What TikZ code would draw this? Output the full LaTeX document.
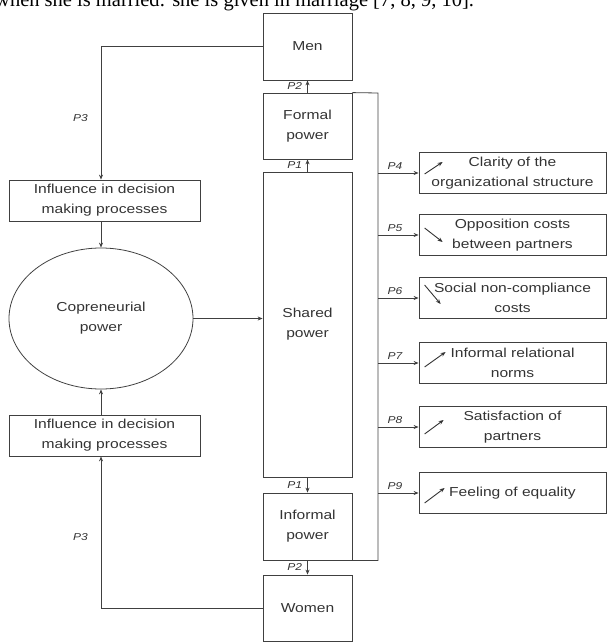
\documentclass[tikz,border=0pt]{standalone}
\usepackage{fontspec}
\setmainfont{Liberation Sans}[FakeStretch=1.2]
\newfontfamily\refserif{Liberation Serif}
\usetikzlibrary{shapes.geometric,arrows.meta,calc}
\begin{document}
\begin{tikzpicture}[x=1pt,y=-1pt,
  line/.style={draw=black!75, line width=0.8pt},
  arr/.style={line, -{Stealth[length=5pt,width=4pt]}},
  trend/.style={draw=black!80, line width=0.9pt, -{Stealth[length=5pt,width=4pt]}},
  box/.style={line, rectangle, inner sep=0pt, align=center, text=black!80,
              font=\fontsize{13}{20}\selectfont},
  vbox/.style={box, minimum width=89pt},
  lbox/.style={box, minimum width=191pt, minimum height=41pt},
  rbox/.style={box, minimum width=187pt, minimum height=41pt},
  plab/.style={inner sep=0pt, text=black!80, font=\fontsize{10}{12}\selectfont\itshape}
]
\useasboundingbox (0,0) rectangle (608,642);
\clip (0,0) rectangle (608,642);

% cut-off line of surrounding text
\node[anchor=base west, inner sep=0pt, font=\refserif\fontsize{20.5}{20.5}\selectfont] (toptext) at (-5,7)
  {when she is married: she is given in marriage [7, 8, 9, 10].};

% central column
\node[vbox, minimum height=67pt]  (men)      at (307.5,46.5)  {Men};
\node[vbox, minimum height=66pt]  (formal)   at (307.5,126)   {Formal\\power};
\node[vbox, minimum height=305pt] (shared)   at (307.5,324.5) {Shared\\power};
\node[vbox, minimum height=67pt]  (informal) at (307.5,526.5) {Informal\\power};
\node[vbox, minimum height=66pt]  (women)    at (307.5,608)   {Women};

% left column
\node[lbox] (inf1) at (104.5,200.5) {Influence in decision\\making processes};
\node[box, ellipse, minimum width=184pt, minimum height=141pt] (ell) at (101,318.5) {Copreneurial\\power};
\node[lbox] (inf2) at (104.5,435.5) {Influence in decision\\making processes};

% right column
\node[rbox] (b4) at (512.5,173) {Clarity of the\\organizational structure};
\node[rbox] (b5) at (512.5,235) {Opposition costs\\between partners};
\node[rbox] (b6) at (512.5,298) {Social non-compliance\\costs};
\node[rbox] (b7) at (512.5,363) {Informal relational\\norms};
\node[rbox] (b8) at (512.5,427) {Satisfaction of\\partners};
\node[rbox] (b9) at (512.5,493) {Feeling of equality};

% vertical arrows in central column
\draw[arr] (formal.north) -- node[plab, left=5pt] (p2a) {P2} (men.south);
\draw[arr] (shared.north) -- node[plab, left=5pt] (p1a) {P1} (formal.south);
\draw[arr] (shared.south) -- node[plab, left=5pt] (p1b) {P1} (informal.north);
\draw[arr] (informal.south) -- node[plab, left=5pt] (p2b) {P2} (women.north);

% left loop
\draw[arr] (men.west) -| (inf1.north -| ell.north);
\draw[arr] (inf1.south -| ell.north) -- (ell.north);
\draw[arr] (inf2.north -| ell.south) -- (ell.south);
\draw[arr] (women.west) -| (inf2.south -| ell.south);
\draw[arr] (ell.east) -- (ell.east -| shared.west);
\node[plab, anchor=east] (p3a) at (88,118) {P3};
\node[plab, anchor=east] (p3b) at (88,537) {P3};

% bracket and outcome arrows
\coordinate (br) at (378,93);
\draw[line] (formal.north east) -- (br) -- (br |- informal.south east) -- (informal.south east);
\draw[arr] (br |- b4.west) -- node[plab, above=3pt, pos=0.42] (p4) {P4} (b4.west);
\draw[arr] (br |- b5.west) -- node[plab, above=3pt, pos=0.42] (p5) {P5} (b5.west);
\draw[arr] (br |- b6.west) -- node[plab, above=3pt, pos=0.42] (p6) {P6} (b6.west);
\draw[arr] (br |- b7.west) -- node[plab, above=3pt, pos=0.42] (p7) {P7} (b7.west);
\draw[arr] (br |- b8.west) -- node[plab, above=3pt, pos=0.42] (p8) {P8} (b8.west);
\draw[arr] (br |- b9.west) -- node[plab, above=3pt, pos=0.42] (p9) {P9} (b9.west);

% trend arrows inside outcome boxes
\draw[trend] ($(b4.west)+(6,1)$)  -- ($(b4.west)+(24,-11)$);
\draw[trend] ($(b5.west)+(6,-7)$) -- ($(b5.west)+(24,7)$);
\draw[trend] ($(b6.west)+(6,-13)$) -- ($(b6.west)+(22,6)$);
\draw[trend] ($(b7.west)+(6,4)$)  -- ($(b7.west)+(27,-11)$);
\draw[trend] ($(b8.west)+(6,7)$)  -- ($(b8.west)+(25,-7)$);
\draw[trend] ($(b9.west)+(6,10)$) -- ($(b9.west)+(26,-5)$);
\end{tikzpicture}
\end{document}
